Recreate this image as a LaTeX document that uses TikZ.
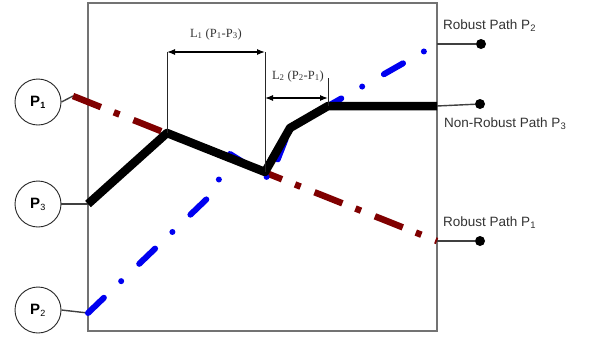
\documentclass[tikz,border=0pt]{standalone}
\usepackage{fontspec}
\setmainfont{Liberation Serif}
\setsansfont{Liberation Sans}
\usetikzlibrary{arrows.meta}
\begin{document}
\begin{tikzpicture}[x=1pt,y=-1pt,
  pcirc/.style={circle,draw=black!85,line width=0.9pt,minimum size=46pt,inner sep=0pt,font=\sffamily\bfseries\fontsize{15}{15}\selectfont},
  enddot/.style={circle,fill=black,minimum size=10pt,inner sep=0pt},
  plabel/.style={anchor=west,font=\sffamily\fontsize{13.5}{14}\selectfont,text=black!80,inner sep=0pt},
  dimlbl/.style={font=\fontsize{12.5}{13}\selectfont,inner sep=0pt,text=black!80},
  reddash/.style={line width=6.5pt,line cap=butt,dash pattern=on 30pt off 14pt on 6pt off 15pt},
  bluedash/.style={line width=6pt,line cap=round,line join=round,dash pattern=on 22pt off 24pt on 0pt off 25pt},
  thinline/.style={line width=0.8pt,black!85},
  conn/.style={line width=1.4pt,black!75},
  dimarrow/.style={line width=1.2pt,{Latex[length=8pt,width=6pt]}-{Latex[length=8pt,width=6pt]}}
]
\useasboundingbox (0,0) rectangle (600,341);
% frame
\draw[line width=1.8pt,black!55] (88,3) rectangle (437,331);

% coordinates
\coordinate (r0) at (73,96);
\coordinate (r1) at (437,241);
\coordinate (b0) at (88,204);
\coordinate (b1) at (167,133);
\coordinate (b2) at (265,172);
\coordinate (b3) at (290,128);
\coordinate (b4) at (328,106);
\coordinate (b5) at (437,106);
\coordinate (u0) at (88,313);
\coordinate (u1) at (213,193);
\coordinate (u2) at (230,154);
\coordinate (u3) at (270,179);
\coordinate (u5) at (437,44);

% circles
\node[pcirc] (c1) at (38,102) {P\textsubscript{\fontsize{9}{9}\selectfont 1}};
\node[pcirc] (c3) at (38,204) {P\textsubscript{\fontsize{9}{9}\selectfont\mdseries 3}};
\node[pcirc] (c2) at (38,310) {P\textsubscript{\fontsize{9}{9}\selectfont\mdseries 2}};

% end dots
\node[enddot] (d2) at (481,44) {};
\node[enddot] (d3) at (480,104) {};
\node[enddot] (d1) at (480,241) {};

% connectors
\draw[conn] (c1.east) -- (r0);
\draw[conn] (c3.east) -- (b0);
\draw[conn] (c2.east) -- (u0);
\draw[conn] (u5) -- (d2);
\draw[conn] (b5) -- (d3);
\draw[conn] (r1) -- (d1);

% paths
\draw[reddash,color={rgb,255:red,128;green,0;blue,0}] (r0) -- (r1);
\draw[bluedash,color={rgb,255:red,0;green,0;blue,240}] (u0) -- (u1) -- (u2) -- (u3) -- (b3) -- (b4) -- (u5);
\draw[line width=8.5pt,line join=round,black] (b0) -- (b1) -- (b2) -- (b3) -- (b4) -- (b5);

% dimensions
\coordinate (t1) at (167,52);
\coordinate (t2) at (265,52);
\coordinate (t3) at (328,78);
\coordinate (m2) at (265,98);
\coordinate (m3) at (328,98);
\draw[thinline] (t1) -- (b1);
\draw[thinline] (t2) -- (b2);
\draw[thinline] (t3) -- (b4);
\draw[dimarrow] (t1) -- (t2);
\draw[dimarrow] (m2) -- (m3);
\node[dimlbl] (l1) at (216,34) {L\textsubscript{1} (P\textsubscript{1}-P\textsubscript{3})};
\node[dimlbl] (l2) at (298,76) {L\textsubscript{2} (P\textsubscript{2}-P\textsubscript{1})};

% labels
\node[plabel] (lp2) at (443,26) {Robust Path P\textsubscript{2}};
\node[plabel] (lp3) at (444,124) {Non-Robust Path P\textsubscript{3}};
\node[plabel] (lp1) at (443,223) {Robust Path P\textsubscript{1}};
\end{tikzpicture}
\end{document}
